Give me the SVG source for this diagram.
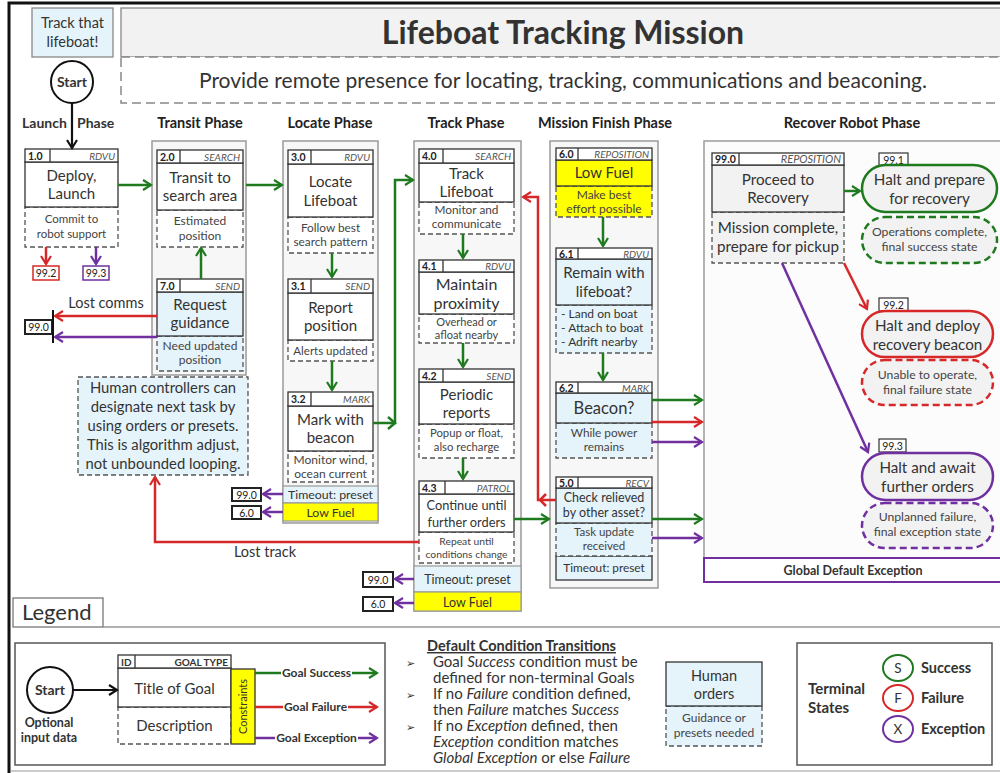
<svg xmlns="http://www.w3.org/2000/svg" width="1000" height="773" viewBox="0 0 1000 773">
<defs>
<style>
text{font-family:Lato,"Liberation Sans",sans-serif;fill:#333}
.cont{fill:#f7f7f7;stroke:#9a9a9a;stroke-width:1.5}
.hdr{fill:#fff;stroke:#333;stroke-width:1.3}
.ttl{fill:#fff;stroke:#333;stroke-width:1.3}
.dsc{fill:#fff;stroke:#555;stroke-width:1.3;stroke-dasharray:5 3}
.bl{fill:#e5f3fb}
.yl{fill:#ffff00}
.gy{fill:#f2f2f2}
.dv{stroke:#333;stroke-width:1.3}
.id{font-size:10.5px;font-weight:bold;fill:#222}
.gt{font-size:10px;font-style:italic;text-anchor:end;fill:#555}
.tt{font-size:15px;text-anchor:middle}
.dd{font-size:11.5px;text-anchor:middle;fill:#444}
.ph{font-size:14.5px;font-weight:bold;text-anchor:middle;fill:#222}
.g{stroke:#1f7a1f;stroke-width:2.5;fill:none}
.r{stroke:#d62828;stroke-width:2.5;fill:none}
.p{stroke:#7030a0;stroke-width:2.5;fill:none}
.k{stroke:#111;stroke-width:2.2;fill:none}
.ref{fill:#fff;stroke:#222;stroke-width:2}
.rl{font-size:10.5px;text-anchor:middle;fill:#222}
.pill{fill:#f2f2f2;stroke-width:2.5}
.dp{fill:#f2f2f2;stroke-width:2.5;stroke-dasharray:7 4}
.pt{font-size:15.2px;text-anchor:middle}
.pd{font-size:12.2px;text-anchor:middle;fill:#444}
.box{fill:#e5f3fb;stroke:#999;stroke-width:1.2}
.fuel{fill:#ffff00;stroke:#999;stroke-width:1.2}
.sm{font-size:12.5px;text-anchor:middle}
.lt{font-size:15px;fill:#333}
</style>
<marker id="mg" viewBox="0 0 12 12" refX="10" refY="6" markerWidth="12" markerHeight="12" markerUnits="userSpaceOnUse" orient="auto"><path d="M2,1 L10,6 L2,11" fill="none" stroke="#1f7a1f" stroke-width="2.2"/></marker>
<marker id="mr" viewBox="0 0 12 12" refX="10" refY="6" markerWidth="12" markerHeight="12" markerUnits="userSpaceOnUse" orient="auto"><path d="M2,1 L10,6 L2,11" fill="none" stroke="#d62828" stroke-width="2.2"/></marker>
<marker id="mp" viewBox="0 0 12 12" refX="10" refY="6" markerWidth="12" markerHeight="12" markerUnits="userSpaceOnUse" orient="auto"><path d="M2,1 L10,6 L2,11" fill="none" stroke="#7030a0" stroke-width="2.2"/></marker>
<marker id="mk" viewBox="0 0 12 12" refX="10" refY="6" markerWidth="12" markerHeight="12" markerUnits="userSpaceOnUse" orient="auto"><path d="M2,1 L10,6 L2,11" fill="none" stroke="#111" stroke-width="2.2"/></marker>
</defs>

<rect x="9" y="3" width="1000" height="790" fill="#fff" stroke="#111" stroke-width="3"/>

<g id="header">
<rect x="32" y="8" width="81" height="49" fill="#e5f3fb" stroke="#888" stroke-width="1.3"/>
<text x="72.5" y="28" font-size="14.5" text-anchor="middle">Track that</text>
<text x="72.5" y="47" font-size="14.5" text-anchor="middle">lifeboat!</text>
<rect x="121" y="8" width="890" height="49" fill="#f2f2f2" stroke="#888" stroke-width="1.3"/>
<text x="563" y="44" font-size="32" font-weight="bold" text-anchor="middle" fill="#222">Lifeboat Tracking Mission</text>
<rect x="121" y="57" width="890" height="46" fill="#fff" stroke="#888" stroke-width="1.5" stroke-dasharray="9 5"/>
<text x="563" y="88" font-size="21" text-anchor="middle">Provide remote presence for locating, tracking, communications and beaconing.</text>
</g>

<g id="phases">
<text x="22" y="128" font-size="14" font-weight="bold" fill="#222">Launch</text>
<text x="77" y="128" font-size="14" font-weight="bold" fill="#222">Phase</text>
<text class="ph" x="200" y="128">Transit Phase</text>
<text class="ph" x="330" y="128">Locate Phase</text>
<text class="ph" x="466" y="128">Track Phase</text>
<text class="ph" x="605" y="128">Mission Finish Phase</text>
<text class="ph" x="852" y="128">Recover Robot Phase</text>
</g>

<g id="containers">
<rect class="cont" x="152" y="141" width="94" height="234"/>
<rect class="cont" x="283" y="141" width="95" height="382"/>
<rect class="cont" x="414" y="141" width="107" height="470"/>
<rect class="cont" x="550" y="141" width="108" height="447"/>
<rect x="704" y="141" width="300" height="441" fill="#fcfcfc" stroke="#9a9a9a" stroke-width="1.5"/>
</g>

<g id="start">
<circle cx="72" cy="82" r="21" fill="#fff" stroke="#111" stroke-width="2"/>
<text x="72" y="87" font-size="14" font-weight="bold" text-anchor="middle" fill="#222">Start</text>
</g>

<g id="n1_0">
<rect class="dsc" x="25" y="207" width="93" height="40"/>
<rect class="ttl" x="25" y="162" width="93" height="45"/>
<rect class="hdr" x="25" y="149" width="93" height="13"/>
<line class="dv" x1="50" y1="149" x2="50" y2="162"/>
<text class="id" x="28" y="159.5">1.0</text><text class="gt" x="115" y="159.5">RDVU</text>
<text class="tt" x="71.5" y="181">Deploy,</text><text class="tt" x="71.5" y="199">Launch</text>
<text class="dd" x="71.5" y="223">Commit to</text><text class="dd" x="71.5" y="238">robot support</text>
</g>
<g id="ref_99_2a"><rect x="33" y="266" width="26" height="14" fill="#fff" stroke="#d62828" stroke-width="1.5"/><text class="rl" x="46" y="277">99.2</text></g>
<g id="ref_99_3a"><rect x="83" y="266" width="26" height="14" fill="#fff" stroke="#7030a0" stroke-width="1.5"/><text class="rl" x="96" y="277">99.3</text></g>

<g id="n2_0">
<rect class="dsc" x="157" y="210" width="86" height="37"/>
<rect class="ttl" x="157" y="163" width="86" height="47"/>
<rect class="hdr" x="157" y="150" width="86" height="13"/>
<line class="dv" x1="180" y1="150" x2="180" y2="163"/>
<text class="id" x="160" y="160.5">2.0</text><text class="gt" x="240" y="160.5">SEARCH</text>
<text class="tt" x="200" y="183">Transit to</text><text class="tt" x="200" y="201">search area</text>
<text class="dd" x="200" y="225" style="font-size:12px">Estimated</text><text class="dd" x="200" y="240" style="font-size:12px">position</text>
</g>

<g id="n7_0">
<rect class="dsc bl" x="157" y="336" width="86" height="35"/>
<rect class="ttl bl" x="157" y="292" width="86" height="44"/>
<rect class="hdr" x="157" y="279" width="86" height="13"/>
<line class="dv" x1="180" y1="279" x2="180" y2="292"/>
<text class="id" x="160" y="289.5">7.0</text><text class="gt" x="240" y="289.5">SEND</text>
<text class="tt" x="200" y="310">Request</text><text class="tt" x="200" y="328">guidance</text>
<text class="dd" x="200" y="350" style="font-size:12px">Need updated</text><text class="dd" x="200" y="364" style="font-size:12px">position</text>
</g>

<g id="ref_99_0a"><rect class="ref" x="25" y="320" width="27" height="14"/><text class="rl" x="38.5" y="331">99.0</text></g>

<g id="human_note">
<rect class="dsc bl" x="78" y="377" width="170" height="98" stroke-width="1.6"/>
<text x="163" y="393" font-size="14.8" text-anchor="middle">Human controllers can</text>
<text x="163" y="412" font-size="14.8" text-anchor="middle">designate next task by</text>
<text x="163" y="431" font-size="14.8" text-anchor="middle">using orders or presets.</text>
<text x="163" y="450" font-size="14.8" text-anchor="middle">This is algorithm adjust,</text>
<text x="163" y="469" font-size="14.8" text-anchor="middle">not unbounded looping.</text>
</g>

<g id="n3_0">
<rect class="dsc" x="288" y="217" width="85" height="36"/>
<rect class="ttl" x="288" y="164" width="85" height="53"/>
<rect class="hdr" x="288" y="150" width="85" height="14"/>
<line class="dv" x1="311" y1="150" x2="311" y2="164"/>
<text class="id" x="291" y="161">3.0</text><text class="gt" x="370" y="161">RDVU</text>
<text class="tt" x="330.5" y="187">Locate</text><text class="tt" x="330.5" y="206">Lifeboat</text>
<text class="dd" x="330.5" y="232" style="font-size:11.8px">Follow best</text><text class="dd" x="330.5" y="246" style="font-size:11.8px">search pattern</text>
</g>
<g id="n3_1">
<rect class="dsc" x="288" y="340" width="85" height="21"/>
<rect class="ttl" x="288" y="293" width="85" height="47"/>
<rect class="hdr" x="288" y="279" width="85" height="14"/>
<line class="dv" x1="311" y1="279" x2="311" y2="293"/>
<text class="id" x="291" y="290">3.1</text><text class="gt" x="370" y="290">SEND</text>
<text class="tt" x="330.5" y="313">Report</text><text class="tt" x="330.5" y="331">position</text>
<text class="dd" x="330.5" y="355">Alerts updated</text>
</g>
<g id="n3_2">
<rect class="dsc" x="288" y="451" width="85" height="31"/>
<rect class="ttl" x="288" y="406" width="85" height="45"/>
<rect class="hdr" x="288" y="392" width="85" height="14"/>
<line class="dv" x1="311" y1="392" x2="311" y2="406"/>
<text class="id" x="291" y="403">3.2</text><text class="gt" x="370" y="403">MARK</text>
<text class="tt" x="330.5" y="425">Mark with</text><text class="tt" x="330.5" y="443">beacon</text>
<text class="dd" x="330.5" y="464" style="font-size:12px">Monitor wind,</text><text class="dd" x="330.5" y="478" style="font-size:12px">ocean current</text>
</g>
<g id="locate_constraints">
<rect class="box" x="283" y="486" width="95" height="17"/><text class="sm" x="330.5" y="499" style="font-size:12.3px">Timeout: preset</text>
<rect class="fuel" x="283" y="503" width="95" height="18"/><text class="sm" x="330.5" y="516.5" style="font-size:12.3px">Low Fuel</text>
</g>
<g id="ref_99_0b"><rect class="ref" x="232" y="488" width="29" height="13"/><text class="rl" x="246.5" y="498.5">99.0</text></g>
<g id="ref_6_0b"><rect class="ref" x="232" y="506" width="29" height="13"/><text class="rl" x="246.5" y="516.5">6.0</text></g>

<g id="n4_0">
<rect class="dsc" x="419" y="202" width="95" height="32"/>
<rect class="ttl" x="419" y="163" width="95" height="39"/>
<rect class="hdr" x="419" y="149" width="95" height="14"/>
<line class="dv" x1="443" y1="149" x2="443" y2="163"/>
<text class="id" x="422" y="160">4.0</text><text class="gt" x="511" y="160">SEARCH</text>
<text class="tt" x="466.5" y="179">Track</text><text class="tt" x="466.5" y="197">Lifeboat</text>
<text class="dd" x="466.5" y="214" style="font-size:11.8px">Monitor and</text><text class="dd" x="466.5" y="228" style="font-size:11.8px">communicate</text>
</g>
<g id="n4_1">
<rect class="dsc" x="419" y="314" width="95" height="29"/>
<rect class="ttl" x="419" y="272" width="95" height="42"/>
<rect class="hdr" x="419" y="260" width="95" height="12"/>
<line class="dv" x1="443" y1="260" x2="443" y2="272"/>
<text class="id" x="422" y="270">4.1</text><text class="gt" x="511" y="270">RDVU</text>
<text class="tt" x="466.5" y="290" style="font-size:16px">Maintain</text><text class="tt" x="466.5" y="309" style="font-size:16px">proximity</text>
<text class="dd" x="466.5" y="326" style="font-size:11px">Overhead or</text><text class="dd" x="466.5" y="339" style="font-size:11px">afloat nearby</text>
</g>
<g id="n4_2">
<rect class="dsc" x="419" y="424" width="95" height="34"/>
<rect class="ttl" x="419" y="382" width="95" height="42"/>
<rect class="hdr" x="419" y="369" width="95" height="13"/>
<line class="dv" x1="443" y1="369" x2="443" y2="382"/>
<text class="id" x="422" y="379.5">4.2</text><text class="gt" x="511" y="379.5">SEND</text>
<text class="tt" x="466.5" y="400">Periodic</text><text class="tt" x="466.5" y="418">reports</text>
<text class="dd" x="466.5" y="437" style="font-size:11.3px">Popup or float,</text><text class="dd" x="466.5" y="451" style="font-size:11.3px">also recharge</text>
</g>
<g id="n4_3">
<rect class="dsc" x="419" y="532" width="95" height="31"/>
<rect class="ttl" x="419" y="494" width="95" height="38"/>
<rect class="hdr" x="419" y="481" width="95" height="13"/>
<line class="dv" x1="445" y1="481" x2="445" y2="494"/>
<text class="id" x="422" y="491.5">4.3</text><text class="gt" x="511" y="491.5">PATROL</text>
<text class="tt" x="466.5" y="510" style="font-size:12.8px">Continue until</text><text class="tt" x="466.5" y="527" style="font-size:12.8px">further orders</text>
<text class="dd" x="466.5" y="545" style="font-size:10.3px">Repeat until</text><text class="dd" x="466.5" y="558" style="font-size:10.3px">conditions change</text>
</g>
<g id="track_constraints">
<rect class="box" x="414" y="566" width="107" height="26"/><text class="sm" x="467.5" y="583.5" style="font-size:12.5px">Timeout: preset</text>
<rect class="fuel" x="414" y="592" width="107" height="19"/><text class="sm" x="467.5" y="606.5" style="font-size:12.5px">Low Fuel</text>
</g>
<g id="ref_99_0c"><rect class="ref" x="363" y="572" width="30" height="15"/><text class="rl" x="378" y="583.5">99.0</text></g>
<g id="ref_6_0c"><rect class="ref" x="363" y="597" width="30" height="14"/><text class="rl" x="378" y="608">6.0</text></g>

<g id="n6_0">
<rect class="dsc yl" x="556" y="186" width="96" height="31"/>
<rect class="ttl yl" x="556" y="160" width="96" height="26"/>
<rect class="hdr" x="556" y="148" width="96" height="12"/>
<line class="dv" x1="578" y1="148" x2="578" y2="160"/>
<text class="id" x="559" y="158">6.0</text><text class="gt" x="649" y="158">REPOSITION</text>
<text class="tt" x="604" y="178">Low Fuel</text>
<text class="dd" x="604" y="199" style="font-size:12px">Make best</text><text class="dd" x="604" y="213" style="font-size:12px">effort possible</text>
</g>
<g id="n6_1">
<rect class="dsc bl" x="556" y="305" width="96" height="48"/>
<rect class="ttl bl" x="556" y="259" width="96" height="46"/>
<rect class="hdr" x="556" y="248" width="96" height="11"/>
<line class="dv" x1="578" y1="248" x2="578" y2="259"/>
<text class="id" x="559" y="257.5">6.1</text><text class="gt" x="649" y="257.5">RDVU</text>
<text class="tt" x="604" y="278">Remain with</text><text class="tt" x="604" y="297">lifeboat?</text>
<text x="561" y="318" font-size="12" fill="#444">- Land on boat</text>
<text x="561" y="332" font-size="12" fill="#444">- Attach to boat</text>
<text x="561" y="346" font-size="12" fill="#444">- Adrift nearby</text>
</g>
<g id="n6_2">
<rect class="dsc bl" x="556" y="423" width="96" height="35"/>
<rect class="ttl bl" x="556" y="393" width="96" height="30"/>
<rect class="hdr" x="556" y="382" width="96" height="11"/>
<line class="dv" x1="578" y1="382" x2="578" y2="393"/>
<text class="id" x="559" y="391.5">6.2</text><text class="gt" x="649" y="391.5">MARK</text>
<text class="tt" x="604" y="414" style="font-size:16.5px">Beacon?</text>
<text class="dd" x="604" y="437" style="font-size:11.8px">While power</text><text class="dd" x="604" y="451" style="font-size:11.8px">remains</text>
</g>
<g id="n5_0">
<rect class="ttl bl" x="556" y="556" width="96" height="24"/>
<rect class="dsc bl" x="556" y="523" width="96" height="33"/>
<rect class="ttl bl" x="556" y="488" width="96" height="35"/>
<rect class="hdr" x="556" y="477" width="96" height="11"/>
<line class="dv" x1="578" y1="477" x2="578" y2="488"/>
<text class="id" x="559" y="486.5">5.0</text><text class="gt" x="649" y="486.5">RECV</text>
<text class="tt" x="604" y="502" style="font-size:12.5px">Check relieved</text><text class="tt" x="604" y="517" style="font-size:12.5px">by other asset?</text>
<text class="dd" x="604" y="536">Task update</text><text class="dd" x="604" y="550">received</text>
<text class="sm" x="604" y="572" style="font-size:11.8px">Timeout: preset</text>
</g>

<g id="n99_0">
<rect class="dsc gy" x="712" y="212" width="132" height="51"/>
<rect class="ttl gy" x="712" y="165" width="132" height="47"/>
<rect class="hdr" x="712" y="153" width="132" height="12"/>
<line class="dv" x1="739" y1="153" x2="739" y2="165"/>
<text class="id" x="715" y="162.5">99.0</text><text class="gt" x="841" y="162.5" style="font-size:11px">REPOSITION</text>
<text class="pt" x="778" y="185">Proceed to</text><text class="pt" x="778" y="203">Recovery</text>
<text class="pt" x="778" y="233">Mission complete,</text><text class="pt" x="778" y="252">prepare for pickup</text>
</g>
<g id="n99_1">
<rect x="879" y="153" width="29" height="13" fill="#fff" stroke="#333" stroke-width="1.2"/><text class="rl" x="893.5" y="163.5">99.1</text>
<rect class="pill" x="862" y="165" width="135" height="47" rx="23.5" stroke="#1f7a1f"/>
<text class="pt" x="929.5" y="185">Halt and prepare</text><text class="pt" x="929.5" y="204">for recovery</text>
<rect class="dp" x="862" y="217" width="135" height="46" rx="23" stroke="#1f7a1f"/>
<text class="pd" x="929.5" y="236">Operations complete,</text><text class="pd" x="929.5" y="251">final success state</text>
</g>
<g id="n99_2">
<rect x="879" y="298" width="29" height="13" fill="#fff" stroke="#333" stroke-width="1.2"/><text class="rl" x="893.5" y="308.5">99.2</text>
<rect class="pill" x="862" y="311" width="131" height="46" rx="23" stroke="#d62828"/>
<text class="pt" x="927.5" y="331">Halt and deploy</text><text class="pt" x="927.5" y="350">recovery beacon</text>
<rect class="dp" x="862" y="360" width="131" height="45" rx="22.5" stroke="#d62828"/>
<text class="pd" x="927.5" y="379">Unable to operate,</text><text class="pd" x="927.5" y="394">final failure state</text>
</g>
<g id="n99_3">
<rect x="879" y="439" width="27" height="13" fill="#fff" stroke="#333" stroke-width="1.2"/><text class="rl" x="892.5" y="449.5">99.3</text>
<rect class="pill" x="862" y="453" width="131" height="47" rx="23.5" stroke="#7030a0"/>
<text class="pt" x="927.5" y="473">Halt and await</text><text class="pt" x="927.5" y="492">further orders</text>
<rect class="dp" x="862" y="503" width="131" height="45" rx="22.5" stroke="#7030a0"/>
<text class="pd" x="927.5" y="521">Unplanned failure,</text><text class="pd" x="927.5" y="536">final exception state</text>
</g>
<g id="global_exception">
<rect x="704" y="558" width="300" height="24" fill="#fff" stroke="#7030a0" stroke-width="2"/>
<text x="853" y="575" font-size="12.5" font-weight="bold" text-anchor="middle" fill="#7030a0">Global Default Exception</text>
</g>

<g id="connectors">
<path class="k" d="M72,103 V148" marker-end="url(#mk)"/>
<path class="g" d="M118,185 H151" marker-end="url(#mg)"/>
<path class="r" d="M46,247 V264" marker-end="url(#mr)"/>
<path class="p" d="M96,247 V264" marker-end="url(#mp)"/>
<path class="g" d="M246,185 H282" marker-end="url(#mg)"/>
<path class="g" d="M201,279 V248" marker-end="url(#mg)"/>
<path class="r" d="M157,316 H55" marker-end="url(#mr)"/>
<path class="p" d="M157,337 H55" marker-end="url(#mp)"/>
<path d="M53,310 V343" stroke="#111" stroke-width="2"/>
<text x="106" y="308" font-size="14.5" text-anchor="middle">Lost comms</text>
<path class="g" d="M332,253 V277" marker-end="url(#mg)"/>
<path class="g" d="M332,361 V390" marker-end="url(#mg)"/>
<path class="g" d="M373,423 H395 V180 H413" marker-end="url(#mg)"/>
<path class="g" d="M388,417 L395,423 L388,429" stroke-width="2.2"/>
<path class="p" d="M283,494 H263" marker-end="url(#mp)"/>
<path class="p" d="M283,512 H263" marker-end="url(#mp)"/>
<path class="g" d="M463,234 V258" marker-end="url(#mg)"/>
<path class="g" d="M463,343 V367" marker-end="url(#mg)"/>
<path class="g" d="M463,458 V479" marker-end="url(#mg)"/>
<path class="g" d="M514,519 H549" marker-end="url(#mg)"/>
<path class="r" d="M419,542 H155 V477" marker-end="url(#mr)"/>
<text x="265" y="557" font-size="14.5" text-anchor="middle">Lost track</text>
<path class="p" d="M414,579 H395" marker-end="url(#mp)"/>
<path class="p" d="M414,603 H395" marker-end="url(#mp)"/>
<path class="r" d="M556,500 H538 V197 H523" marker-end="url(#mr)"/>
<path class="r" d="M546,494 L540,500 L546,506" stroke-width="2.2"/>
<path class="g" d="M603,217 V246" marker-end="url(#mg)"/>
<path class="g" d="M603,353 V380" marker-end="url(#mg)"/>
<path class="g" d="M652,400 H702" marker-end="url(#mg)"/>
<path class="r" d="M652,422 H702" marker-end="url(#mr)"/>
<path class="p" d="M652,442 H702" marker-end="url(#mp)"/>
<path class="g" d="M652,519 H702" marker-end="url(#mg)"/>
<path class="p" d="M652,538 H702" marker-end="url(#mp)"/>
<path class="g" d="M844,191 H860" marker-end="url(#mg)"/>
<path class="r" d="M844,263 L867,309" marker-end="url(#mr)"/>
<path class="p" d="M782,263 L868,452" marker-end="url(#mp)"/>
</g>

<g id="legend">
<rect x="13" y="598" width="90" height="29" fill="#fff" stroke="#777" stroke-width="1.3"/>
<text x="22" y="620" font-size="22" fill="#222">Legend</text>
<path d="M103,627 H1000" stroke="#999" stroke-width="1.3"/>
<path d="M11,771 H1000" stroke="#bbb" stroke-width="1.3"/>
<rect x="15" y="643" width="370" height="122" fill="#fff" stroke="#555" stroke-width="1.5"/>
<g id="legend_start">
<circle cx="50" cy="690" r="23" fill="#fff" stroke="#111" stroke-width="2"/>
<text x="50" y="695" font-size="14" font-weight="bold" text-anchor="middle" fill="#222">Start</text>
<text x="49" y="727" font-size="12.5" font-weight="bold" text-anchor="middle" fill="#31849b">Optional</text>
<text x="49" y="742" font-size="12.5" font-weight="bold" text-anchor="middle" fill="#31849b">input data</text>
</g>
<g id="legend_goal">
<rect class="dsc" x="118" y="707" width="113" height="37"/>
<rect class="ttl" x="118" y="668" width="113" height="39"/>
<rect class="hdr" x="118" y="655" width="113" height="13"/>
<line class="dv" x1="135" y1="655" x2="135" y2="668"/>
<text x="121" y="665.5" font-size="10" font-weight="bold" fill="#222">ID</text>
<text x="228" y="665.5" font-size="10" font-weight="bold" text-anchor="end" fill="#222">GOAL TYPE</text>
<text x="174.5" y="694" font-size="15" text-anchor="middle" fill="#666">Title of Goal</text>
<text x="174.5" y="731" font-size="15" text-anchor="middle" fill="#555">Description</text>
<rect x="231" y="669" width="24" height="75" fill="#ffff00" stroke="#333" stroke-width="1.3"/>
<text transform="translate(247,706.5) rotate(-90)" font-size="11" text-anchor="middle" fill="#333">Constraints</text>
</g>
<g id="legend_connectors">
<path class="k" d="M73,690 H117" marker-end="url(#mk)"/>
<path class="g" d="M255,673 H281"/><path class="g" d="M352,673 H377" marker-end="url(#mg)"/>
<text x="316.5" y="677" font-size="12" font-weight="bold" text-anchor="middle" fill="#1f7a1f">Goal Success</text>
<path class="r" d="M255,707 H283"/><path class="r" d="M348,707 H377" marker-end="url(#mr)"/>
<text x="315.5" y="711" font-size="12" font-weight="bold" text-anchor="middle" fill="#d62828">Goal Failure</text>
<path class="p" d="M255,738 H275"/><path class="p" d="M358,738 H377" marker-end="url(#mp)"/>
<text x="316.5" y="742" font-size="12" font-weight="bold" text-anchor="middle" fill="#7030a0">Goal Exception</text>
</g>
<g id="legend_defaults">
<text x="427" y="651" font-size="14.5" font-weight="bold" text-decoration="underline" fill="#222">Default Condition Transitions</text>
<text x="406" y="667" font-size="11" style="font-family:'DejaVu Sans',sans-serif" fill="#222">➢</text>
<text x="406" y="699" font-size="11" style="font-family:'DejaVu Sans',sans-serif" fill="#222">➢</text>
<text x="406" y="731" font-size="11" style="font-family:'DejaVu Sans',sans-serif" fill="#222">➢</text>
<text class="lt" x="433" y="667">Goal <tspan font-style="italic">Success</tspan> condition must be</text>
<text class="lt" x="433" y="683">defined for non-terminal Goals</text>
<text class="lt" x="433" y="699">If no <tspan font-style="italic">Failure</tspan> condition defined,</text>
<text class="lt" x="433" y="715">then <tspan font-style="italic">Failure</tspan> matches <tspan font-style="italic">Success</tspan></text>
<text class="lt" x="433" y="731">If no <tspan font-style="italic">Exception</tspan> defined, then</text>
<text class="lt" x="433" y="747"><tspan font-style="italic">Exception</tspan> condition matches</text>
<text class="lt" x="433" y="763"><tspan font-style="italic">Global Exception</tspan> or else <tspan font-style="italic">Failure</tspan></text>
</g>
<g id="legend_human">
<rect class="dsc bl" x="666" y="706" width="96" height="40"/>
<rect class="ttl bl" x="666" y="662" width="96" height="44"/>
<text x="714" y="681" font-size="14.5" text-anchor="middle">Human</text>
<text x="714" y="699" font-size="14.5" text-anchor="middle">orders</text>
<text class="dd" x="714" y="722" style="font-size:12px">Guidance or</text>
<text class="dd" x="714" y="737" style="font-size:12px">presets needed</text>
</g>
<g id="legend_terminal">
<rect x="797" y="643" width="195" height="122" fill="#fff" stroke="#555" stroke-width="1.5"/>
<text x="808" y="694" font-size="15" font-weight="bold" fill="#222">Terminal</text>
<text x="808" y="713" font-size="15" font-weight="bold" fill="#222">States</text>
<ellipse cx="898" cy="668" rx="15" ry="13" fill="#fff" stroke="#1f7a1f" stroke-width="2"/>
<text x="898" y="673" font-size="13.5" text-anchor="middle" fill="#1f7a1f">S</text>
<ellipse cx="898" cy="698" rx="15" ry="13" fill="#fff" stroke="#d62828" stroke-width="2"/>
<text x="898" y="703" font-size="13.5" text-anchor="middle" fill="#d62828">F</text>
<ellipse cx="898" cy="729" rx="15" ry="13" fill="#fff" stroke="#7030a0" stroke-width="2"/>
<text x="898" y="734" font-size="13.5" text-anchor="middle" fill="#7030a0">X</text>
<text x="921" y="673" font-size="14.5" font-weight="bold" fill="#1f7a1f">Success</text>
<text x="921" y="703" font-size="14.5" font-weight="bold" fill="#d62828">Failure</text>
<text x="921" y="734" font-size="14.5" font-weight="bold" fill="#7030a0">Exception</text>
</g>
</g>
</svg>
